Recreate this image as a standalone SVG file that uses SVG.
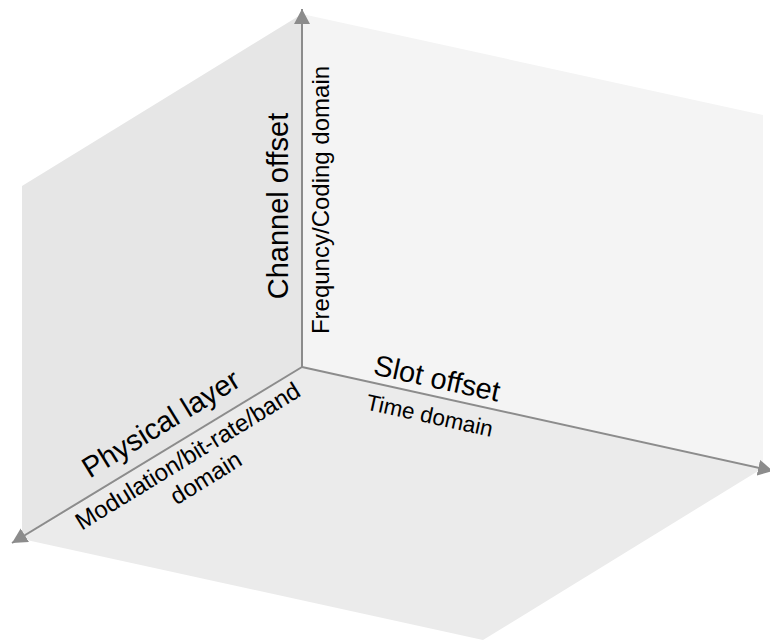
<svg xmlns="http://www.w3.org/2000/svg" width="770" height="641" viewBox="0 0 770 641">
  <style>
    .lbl { font-family: "Liberation Sans", Arial, sans-serif; fill: #000; }
    .big { font-size: 29px; }
    .small { font-size: 24px; }
    .axis { stroke: #8c8c8c; stroke-width: 2; fill: none; }
  </style>
  <defs>
    <marker id="arrow" markerUnits="userSpaceOnUse" viewBox="0 0 15 16" markerWidth="15" markerHeight="16" refX="15" refY="8" orient="auto">
      <path d="M0,0 L15,8 L0,16 z" fill="#8c8c8c"/>
    </marker>
  </defs>
  <rect width="770" height="641" fill="#ffffff"/>
  <g id="planes">
    <polygon id="left-wall" points="302,367 302,14 22,186 22,539" fill="#e6e6e6"/>
    <polygon id="right-wall" points="302,367 302,14 763,115 763,468" fill="#f4f4f4"/>
    <polygon id="floor" points="302,367 22,539 483,640 763,468" fill="#ebebeb"/>
  </g>
  <g id="connectors">
    <line id="axis-channel" class="axis" x1="302" y1="367" x2="302" y2="9" marker-end="url(#arrow)"/>
    <line id="axis-physical" class="axis" x1="302" y1="367" x2="12" y2="543" marker-end="url(#arrow)"/>
    <line id="axis-slot" class="axis" x1="302" y1="367" x2="773" y2="471" marker-end="url(#arrow)"/>
  </g>
  <g id="channel-label">
    <text class="lbl big" text-anchor="middle" transform="translate(288,206) rotate(-90)">Channel offset</text>
    <text class="lbl small" text-anchor="middle" transform="translate(329,200) rotate(-90)">Frequncy/Coding domain</text>
  </g>
  <g id="slot-label">
    <text class="lbl big" text-anchor="middle" transform="translate(435,388) rotate(12.4)">Slot offset</text>
    <text class="lbl small" style="font-size:22.5px" text-anchor="middle" transform="translate(428,423) rotate(12.4)">Time domain</text>
  </g>
  <g id="physical-label">
    <text class="lbl big" text-anchor="middle" transform="translate(166,432) rotate(-31.6)">Physical layer</text>
    <text class="lbl small" text-anchor="middle" transform="translate(192,463) rotate(-31.6)">Modulation/bit-rate/band</text>
    <text class="lbl small" text-anchor="middle" transform="translate(192,463) rotate(-31.6) translate(4,28)">domain</text>
  </g>
</svg>
